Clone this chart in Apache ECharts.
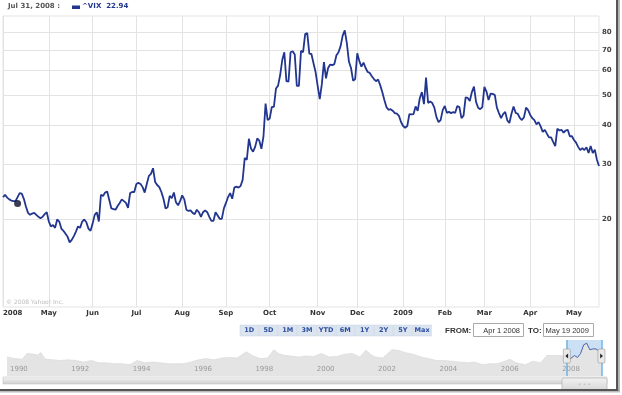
<!DOCTYPE html>
<html><head><meta charset="utf-8">
<script src="https://cdn.jsdelivr.net/npm/echarts@6/dist/echarts.min.js"></script>
<style>html,body{margin:0;padding:0;background:#fff}#c{width:622px;height:395px}</style>
</head><body><div id="c"></div><script>
// ---- data ----
const monthLabels = ['2008','May','Jun','Jul','Aug','Sep','Oct','Nov','Dec','2009','Feb','Mar','Apr','May'];
const vixApr08 = [23.5,23.9,23.4,23.1,22.9,22.8,22.8,23.5,24.2,24.1,23.2,21.9,20.9,20.6,20.8,20.9,20.6,20.3,20.1,20.3,20.7,21.0];
const vixMay08 = [19.6,18.9,19.1,18.7,19.9,19.6,18.6,18.3,17.9,17.5,16.8,17.1,17.6,18.2,18.9,18.7,19.6,19.9,19.5,18.6,18.3];
const vixJun08 = [19.3,20.6,21.0,19.6,23.9,23.7,24.3,24.5,23.0,21.6,21.5,21.4,22.0,22.5,23.1,22.8,22.5,21.7,24.2,24.4,24.4];
const vixJul08 = [25.9,26.1,25.9,25.3,24.3,25.9,27.5,27.9,29.1,26.3,25.7,25.3,24.4,23.2,21.6,21.8,23.7,23.3,24.3,22.6,22.1,22.8];
const vixAug08 = [23.8,23.1,21.4,21.2,21.3,20.9,20.7,21.4,21.0,20.3,21.0,21.3,21.0,20.3,19.7,19.7,21.0,20.5,20.0,20.0,21.6];
const vixSep08 = [22.5,23.5,24.2,23.2,25.2,25.4,25.2,25.5,26.7,31.4,31.0,36.2,33.7,32.9,34.1,36.3,35.7,33.6,36.9,47.0,41.6];
const vixOct08 = [42.1,45.9,45.9,52.6,53.7,58.1,64.9,68.8,55.5,55.3,68.8,69.3,67.6,53.6,53.6,69.5,68.8,78.7,79.3,68.1,67.9,63.4,59.4];
const vixNov08 = [53.6,48.6,54.3,63.9,56.7,61.2,62.8,62.5,63.0,67.3,68.8,72.0,77.8,80.9,73.6,64.2,61.2,55.7,56.4];
const vixDec08 = [68.3,64.4,61.8,63.7,61.2,59.4,59.0,57.6,56.4,55.5,56.2,53.9,51.2,48.3,45.8,44.9,45.1,44.6,43.8,43.6,42.9,41.0];
const vixJan09 = [39.8,39.3,39.8,43.5,43.4,43.5,46.0,44.5,48.9,51.2,46.8,57.0,47.2,47.7,47.2,45.6,42.5,41.0,41.6,44.8];
const vixFeb09 = [46.2,43.9,44.2,43.8,44.1,43.9,46.2,45.8,42.2,43.0,49.2,49.0,47.9,51.2,53.3,47.6,45.6,45.1,45.8];
const vixMar09 = [53.2,51.4,48.3,50.6,50.5,50.1,45.6,43.8,42.2,43.5,44.2,41.5,40.7,43.6,46.0,43.9,43.6,42.3,41.6,42.5,45.6,44.8];
const vixApr09 = [43.2,42.2,41.6,40.3,41.0,39.7,38.1,38.7,37.6,36.6,36.6,35.4,34.3,39.0,38.5,38.7,37.9,38.5,38.7,36.9,36.9];
const vixMay09 = [35.9,35.2,34.1,33.3,33.8,33.3,34.0,32.6,34.3,32.6,33.4,31.0,29.6];
const yTicks = [20,30,40,50,60,70,80];
const dotIndex = 7, dotValue = 22.4;
const hoverDate = 'Jul 31, 2008 :', hoverSymbol = '^VIX', hoverValue = '22.94';
const copyrightText = '\u00a9 2008 Yahoo! Inc.';
const rangeButtons = ['1D','5D','1M','3M','YTD','6M','1Y','2Y','5Y','Max'];
const fromText = 'Apr 1 2008', toText = 'May 19 2009';
// navigator (history 1990-2009)
const navYears = [1990.0,1990.25,1990.5,1990.65,1990.8,1991.0,1991.1,1991.25,1991.5,1991.75,1992.0,1992.25,1992.5,1992.75,1993.0,1993.25,1993.5,1993.75,1994.0,1994.25,1994.5,1994.75,1995.0,1995.25,1995.5,1995.75,1996.0,1996.25,1996.5,1996.75,1997.0,1997.25,1997.5,1997.8,1998.0,1998.25,1998.5,1998.7,1998.85,1999.0,1999.25,1999.5,1999.75,2000.0,2000.25,2000.5,2000.75,2001.0,2001.25,2001.5,2001.7,2001.85,2002.0,2002.25,2002.55,2002.75,2003.0,2003.25,2003.5,2003.75,2004.0,2004.25,2004.5,2004.75,2005.0,2005.25,2005.5,2005.75,2006.0,2006.4,2006.6,2006.9,2007.15,2007.4,2007.6,2007.85,2008.0,2008.25,2008.35,2008.5,2008.6,2008.7,2008.8,2008.9,2009.0,2009.1,2009.2,2009.3,2009.38];
const navValues = [22,19,18,30,29,26,33,18,17,16,17,16,14,16,13,13,12,12,11,16,13,14,13,12,12,12,14,17,19,17,20,21,20,35,25,19,20,42,30,26,24,22,24,23,30,22,23,28,30,22,40,28,22,20,42,40,32,28,22,19,16,16,15,14,13,14,11,12,12,18,13,11,15,13,25,25,25,23,18,25,21,30,65,75,42,45,45,37,29];
const windowRange = [2008.25, 2009.38];

// ---- build ----
const months = [vixApr08,vixMay08,vixJun08,vixJul08,vixAug08,vixSep08,vixOct08,vixNov08,vixDec08,vixJan09,vixFeb09,vixMar09,vixApr09,vixMay09];
const cats = [], vals = [];
months.forEach((arr, m) => arr.forEach((v, d) => { cats.push(m + '-' + d); vals.push(v); }));
const isMonthStart = (i, v) => String(v).endsWith('-0');
const navData = navYears.map((y, i) => [y, navValues[i]]);
const winData = navData.filter(p => p[0] >= windowRange[0]);

const FONT = 'DejaVu Sans';
const LINE = '#22368f';
const chart = echarts.init(document.getElementById('c'), null, {renderer: 'canvas'});
chart.setOption({
  animation: false,
  backgroundColor: '#fff',
  grid: [
    {left: 3, right: 23, top: 16, bottom: 88, show: true, borderColor: '#e3e3e3', borderWidth: 1},
    {left: 3, right: 19, top: 340, height: 36}
  ],
  xAxis: [
    {type: 'category', gridIndex: 0, data: cats, boundaryGap: false,
     axisLine: {show: false}, axisTick: {show: false},
     axisLabel: {interval: isMonthStart, formatter: v => monthLabels[+v.split('-')[0]],
       color: '#333', fontWeight: 'bold', fontSize: 7, fontFamily: FONT, margin: 3, alignMinLabel: 'left'},
     splitLine: {show: true, interval: isMonthStart, lineStyle: {color: '#e3e3e3', width: 1}}},
    {type: 'value', gridIndex: 1, min: 1989.87, max: 2009.43, splitNumber: 10, z: 3,
     axisLine: {show: false}, axisTick: {show: false},
     axisLabel: {inside: true, showMinLabel: false, showMaxLabel: false, formatter: v => String(v),
       color: '#9a9a9a', fontSize: 7, fontFamily: FONT, align: 'left', padding: [0, 0, 0, 3], margin: 3},
     splitLine: {show: true, lineStyle: {color: '#fff', width: 1.5}}}
  ],
  yAxis: [
    {type: 'log', gridIndex: 0, min: 10.4, max: 90, position: 'right',
     axisLine: {show: false}, axisTick: {show: false}, axisLabel: {show: false}, splitLine: {show: false}},
    {type: 'log', gridIndex: 1, min: 4, max: 100, show: false, splitLine: {show: false}}
  ],
  series: [
    {type: 'line', name: '^VIX', xAxisIndex: 0, yAxisIndex: 0, data: vals, symbol: 'none', z: 3,
     lineStyle: {color: LINE, width: 1.8}, silent: true,
     markLine: {silent: true, symbol: 'none', z: 1, animation: false,
       lineStyle: {color: '#e3e3e3', type: 'solid', width: 1},
       label: {position: 'end', formatter: '{c}', color: '#444', fontWeight: 'bold', fontSize: 7, fontFamily: FONT, distance: 3},
       emphasis: {disabled: true},
       data: yTicks.map(v => ({yAxis: v}))}},
    {type: 'scatter', xAxisIndex: 0, yAxisIndex: 0, data: [[dotIndex, dotValue]], symbolSize: 7, z: 4,
     itemStyle: {color: '#0d0d2a'}, silent: true},
    {type: 'line', xAxisIndex: 1, yAxisIndex: 1, data: navData, symbol: 'none', silent: true,
     lineStyle: {color: '#d6d6d6', width: 0.6}, areaStyle: {color: '#e4e4e4', origin: 'start', opacity: 1},
     markArea: {silent: true, itemStyle: {color: 'rgba(160,198,235,0.55)'},
       data: [[{xAxis: windowRange[0]}, {xAxis: windowRange[1]}]]},
     markLine: {silent: true, symbol: 'none', label: {show: false}, z: 6,
       lineStyle: {color: '#6cb4e6', width: 1.5, type: 'solid'},
       data: windowRange.map(v => ({xAxis: v}))}},
    {type: 'line', xAxisIndex: 1, yAxisIndex: 1, data: winData, symbol: 'none', silent: true, z: 5,
     lineStyle: {color: '#4a66b0', width: 1}}
  ]
});

// ---- decorations (header, controls, frame) ----
const g = [];
g.push({type: 'text', left: 8, top: 3, style: {text: hoverDate, fill: '#555', font: 'bold 7px "DejaVu Sans"'}});
g.push({type: 'rect', shape: {x: 72, y: 5.5, width: 8, height: 3.5}, style: {fill: LINE}});
g.push({type: 'text', left: 82, top: 3, style: {text: hoverSymbol + '  ' + hoverValue, fill: LINE, font: 'bold 7px "DejaVu Sans"'}});
g.push({type: 'text', left: 6, top: 299, style: {text: copyrightText, fill: '#bdbdbd', font: '6px "DejaVu Sans"'}});
rangeButtons.forEach((t, k) => {
  const x = 240 + k * 19.2;
  g.push({type: 'rect', shape: {x: x, y: 325, width: 18.6, height: 11}, style: {fill: '#dbe4ef', stroke: '#c6d2e0', lineWidth: 0.5}});
  g.push({type: 'text', x: x + 9.3, y: 330.5, style: {text: t, fill: '#2b4ea0', font: 'bold 6.5px "DejaVu Sans"', align: 'center', verticalAlign: 'middle'}});
});
g.push({type: 'text', x: 445, y: 330.5, style: {text: 'FROM:', fill: '#333', font: 'bold 8px "Liberation Sans"', verticalAlign: 'middle'}});
g.push({type: 'rect', shape: {x: 473.5, y: 323.5, width: 50, height: 13}, style: {fill: '#fff', stroke: '#aaa', lineWidth: 1}});
g.push({type: 'text', x: 520, y: 330.5, style: {text: fromText, fill: '#333', font: '7.5px "Liberation Sans"', align: 'right', verticalAlign: 'middle'}});
g.push({type: 'text', x: 528, y: 330.5, style: {text: 'TO:', fill: '#333', font: 'bold 8px "Liberation Sans"', verticalAlign: 'middle'}});
g.push({type: 'rect', shape: {x: 543.5, y: 323.5, width: 50, height: 13}, style: {fill: '#fff', stroke: '#aaa', lineWidth: 1}});
g.push({type: 'text', x: 545.5, y: 330.5, style: {text: toText, fill: '#333', font: '7.5px "Liberation Sans"', verticalAlign: 'middle'}});
// navigator handles
windowRange.forEach((v, k) => {
  const px = chart.convertToPixel({xAxisIndex: 1}, v);
  g.push({type: 'rect', z: 10, shape: {x: px - 3.5, y: 349, width: 7, height: 14, r: 1}, style: {fill: '#e9e9e9', stroke: '#999', lineWidth: 0.6}});
  const d = k === 0 ? -1 : 1;
  g.push({type: 'polygon', z: 11, shape: {points: [[px - d * 1.3, 353.5], [px - d * 1.3, 358.5], [px + d * 1.5, 356]]}, style: {fill: '#222'}});
});
// scrollbar
g.push({type: 'rect', shape: {x: 3, y: 377, width: 604, height: 7},
  style: {fill: new echarts.graphic.LinearGradient(0, 0, 0, 1, [{offset: 0, color: '#f6f6f6'}, {offset: 1, color: '#cfcfcf'}]), stroke: '#c8c8c8', lineWidth: 0.6}});
g.push({type: 'rect', shape: {x: 562, y: 378, width: 45, height: 13, r: 2},
  style: {fill: new echarts.graphic.LinearGradient(0, 0, 0, 1, [{offset: 0, color: '#f3f3f3'}, {offset: 1, color: '#d5d5d5'}]), stroke: '#aaa', lineWidth: 0.6}});
g.push({type: 'text', x: 584.5, y: 384.5, style: {text: '- - -', fill: '#999', font: '7px "DejaVu Sans"', align: 'center', verticalAlign: 'middle'}});
// frame
g.push({type: 'rect', shape: {x: 616, y: 0, width: 2.5, height: 391}, style: {fill: '#555'}});
g.push({type: 'rect', shape: {x: 0, y: 389, width: 618.5, height: 2}, style: {fill: '#555'}});
g.push({type: 'rect', shape: {x: 618.5, y: 0, width: 1.5, height: 392}, style: {fill: '#bbb'}});
g.push({type: 'rect', shape: {x: 0, y: 391, width: 620, height: 1.5}, style: {fill: '#bbb'}});
chart.setOption({graphic: g});
</script></body></html>
